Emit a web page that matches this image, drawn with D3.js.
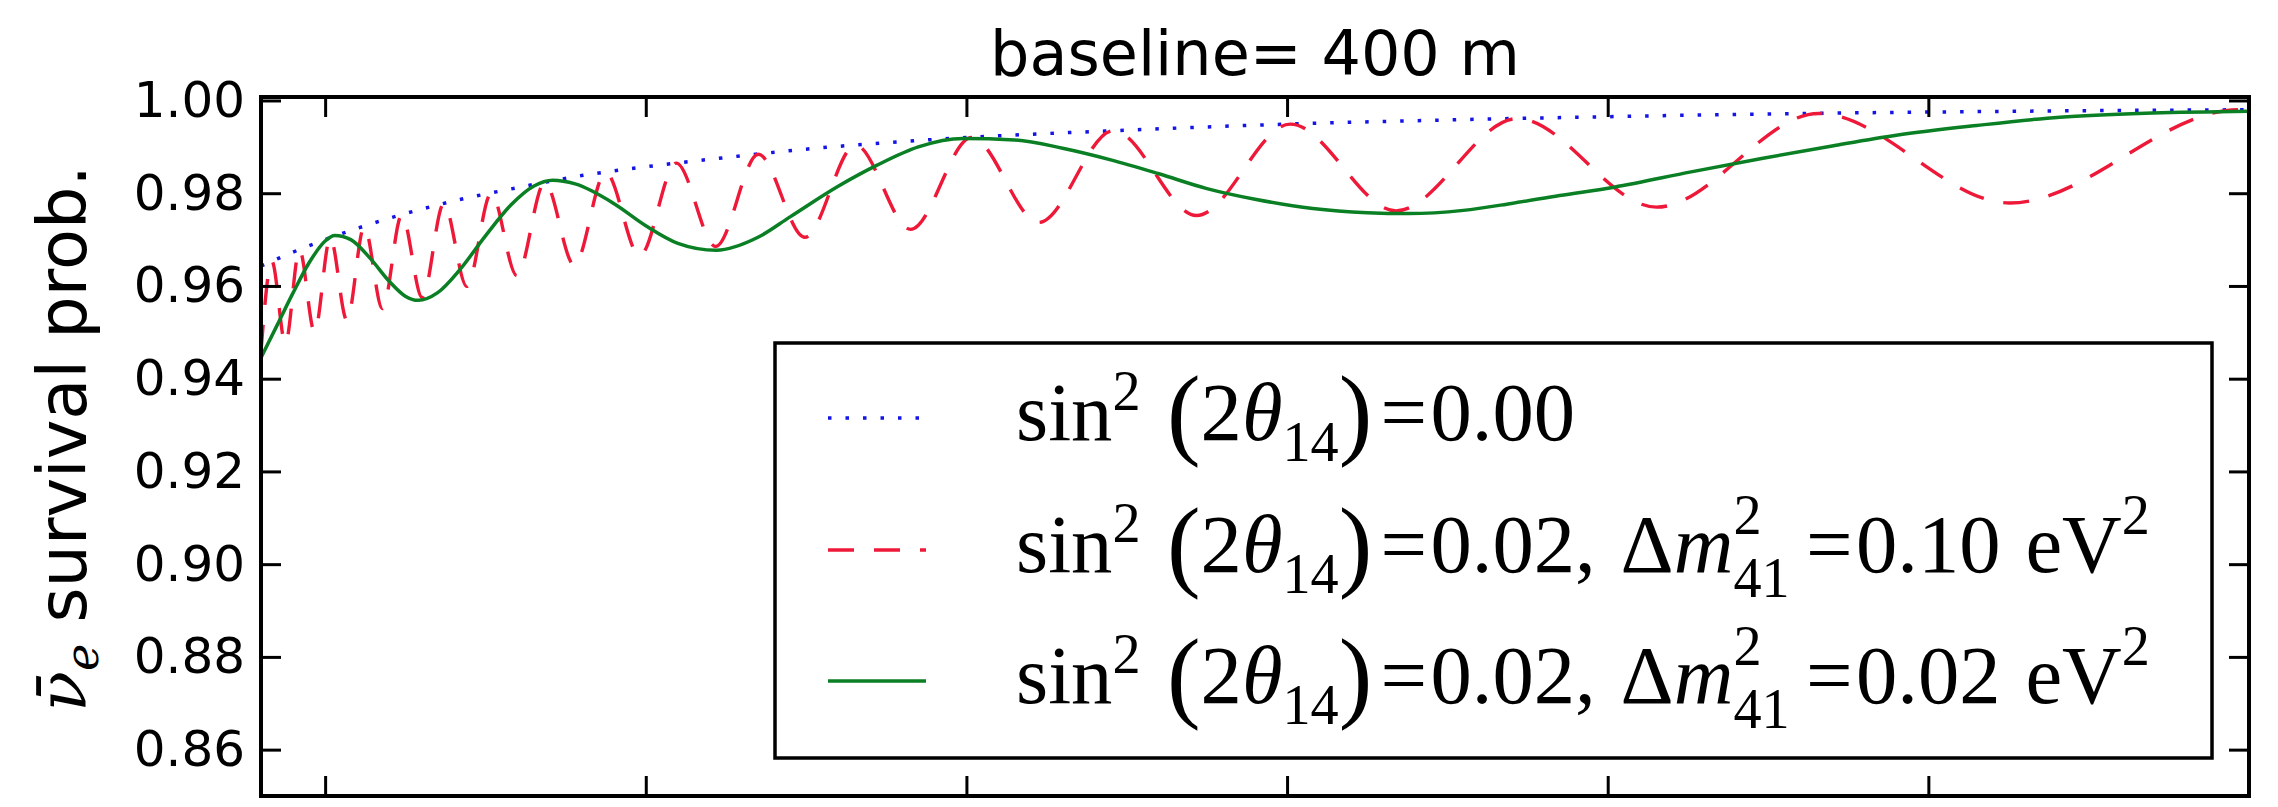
<!DOCTYPE html>
<html>
<head>
<meta charset="utf-8">
<script src="https://cdn.jsdelivr.net/npm/d3@7"></script>
<style>
  body { margin: 0; background: #fff; }
</style>
</head>
<body>
<div id="chart"></div>
<script>
var svgWidth = 2278;
var svgHeight = 807;

var margin = {top: 97, right: 29, bottom: 11, left: 261};
var width = svgWidth - margin.left - margin.right;
var height = svgHeight - margin.top - margin.bottom;

// tick positions (x ticks carry no labels in the original)
var xTicks = [2, 3, 4, 5, 6, 7, 8];
var yTicks = [0.86, 0.88, 0.90, 0.92, 0.94, 0.96, 0.98, 1.00];

// no sterile mixing
var blueE = [1.80, 1.90, 2.00, 2.20, 2.40, 2.60, 2.80, 3.00, 3.25, 3.50, 3.75, 4.00, 4.50, 5.00, 5.50, 6.00, 6.50, 7.00, 7.50, 8.00];
var blueP = [0.9643, 0.9673, 0.9700, 0.9746, 0.9783, 0.9812, 0.9838, 0.9857, 0.9877, 0.9895, 0.9909, 0.9920, 0.9936, 0.9949, 0.9958, 0.9965, 0.9971, 0.9975, 0.9978, 0.9980];

// sin^2 = 0.02, dm41 = 0.10 eV^2 (read at the turning points)
var redE = [1.800, 1.834, 1.876, 1.920, 1.967, 2.016, 2.068, 2.122, 2.179, 2.239, 2.303, 2.370, 2.442, 2.518, 2.598, 2.685, 2.777, 2.875, 2.981, 3.095, 3.218, 3.351, 3.496, 3.654, 3.826, 4.016, 4.226, 4.458, 4.718, 5.010, 5.340, 5.718, 6.152, 6.658, 7.254, 7.968, 8.000];
var redP = [0.9460, 0.9653, 0.9476, 0.9678, 0.9501, 0.9704, 0.9526, 0.9728, 0.9551, 0.9753, 0.9575, 0.9778, 0.9599, 0.9800, 0.9622, 0.9823, 0.9645, 0.9845, 0.9665, 0.9865, 0.9685, 0.9884, 0.9705, 0.9904, 0.9722, 0.9920, 0.9737, 0.9935, 0.9752, 0.9949, 0.9762, 0.9961, 0.9770, 0.9972, 0.9779, 0.9980, 0.9980];

// sin^2 = 0.02, dm41 = 0.02 eV^2
var greenE = [1.80, 1.85, 1.90, 1.95, 2.00, 2.03, 2.08, 2.14, 2.20, 2.25, 2.29, 2.35, 2.42, 2.50, 2.58, 2.65, 2.71, 2.78, 2.90, 3.00, 3.10, 3.22, 3.35, 3.45, 3.60, 3.72, 3.85, 3.99, 4.15, 4.30, 4.45, 4.60, 4.75, 4.90, 5.08, 5.25, 5.38, 5.55, 5.70, 5.85, 6.02, 6.26, 6.48, 6.70, 6.90, 7.15, 7.41, 7.70, 8.00];
var greenP = [0.9445, 0.9515, 0.9585, 0.9650, 0.9697, 0.9709, 0.9700, 0.9660, 0.9610, 0.9578, 0.9569, 0.9585, 0.9635, 0.9708, 0.9775, 0.9815, 0.9828, 0.9820, 0.9778, 0.9730, 0.9692, 0.9677, 0.9705, 0.9749, 0.9815, 0.9860, 0.9900, 0.9918, 0.9915, 0.9897, 0.9872, 0.9842, 0.9810, 0.9787, 0.9767, 0.9758, 0.9756, 0.9763, 0.9778, 0.9795, 0.9813, 0.9846, 0.9875, 0.9902, 0.9925, 0.9946, 0.9964, 0.9973, 0.9977];

var mixValues = ["0.00", "0.02", "0.02"];
var dmValues = [null, "0.10", "0.02"];

var svg = d3.select("#chart")
    .append("svg")
    .attr("width", svgWidth)
    .attr("height", svgHeight)
    .style("background", "#fff");

var chartGroup = svg.append("g")
    .attr("transform", `translate(${margin.left}, ${margin.top})`);

var xScale = d3.scaleLinear().domain([1.8, 8]).range([0, width]);
var yScale = d3.scaleLinear().domain([0.85, 1.00075]).range([height, 0]);

svg.append("defs").append("clipPath").attr("id", "plotclip")
    .append("rect").attr("width", width).attr("height", height);

// curves
var line = d3.line()
    .x(d => xScale(d[0]))
    .y(d => yScale(d[1]))
    .curve(d3.curveMonotoneX);

var series = [
    {e: blueE, p: blueP, color: "#1414e6", dash: "3.5,14", w: 3.5},
    {e: redE, p: redP, color: "#ee1838", dash: "26,20", w: 3.4},
    {e: greenE, p: greenP, color: "#0a7f24", dash: null, w: 3.5}
];

var curves = chartGroup.append("g").attr("clip-path", "url(#plotclip)");
series.forEach(function(s) {
    curves.append("path")
        .datum(d3.zip(s.e, s.p))
        .attr("d", line)
        .attr("fill", "none")
        .attr("stroke", s.color)
        .attr("stroke-width", s.w)
        .attr("stroke-dasharray", s.dash);
});

// axes, ticks pointing inwards like the old matplotlib style
var tickLen = 20;
var leftAxis = d3.axisLeft(yScale).tickValues(yTicks).tickFormat(d3.format(".2f"))
    .tickSizeInner(-tickLen).tickSizeOuter(0).tickPadding(16);
var rightAxis = d3.axisRight(yScale).tickValues(yTicks).tickFormat("")
    .tickSizeInner(-tickLen).tickSizeOuter(0);
var bottomAxis = d3.axisBottom(xScale).tickValues(xTicks).tickFormat("")
    .tickSizeInner(-tickLen).tickSizeOuter(0);
var topAxis = d3.axisTop(xScale).tickValues(xTicks).tickFormat("")
    .tickSizeInner(-tickLen).tickSizeOuter(0);

var axes = [
    chartGroup.append("g").call(leftAxis),
    chartGroup.append("g").attr("transform", `translate(${width}, 0)`).call(rightAxis),
    chartGroup.append("g").attr("transform", `translate(0, ${height})`).call(bottomAxis),
    chartGroup.append("g").call(topAxis)
];
axes.forEach(function(a) {
    a.select(".domain").remove();
    a.selectAll("line").attr("stroke", "#000").attr("stroke-width", 3);
    a.selectAll("text")
        .attr("fill", "#000")
        .style("font-family", "'DejaVu Sans', sans-serif")
        .style("font-size", "50px");
});

chartGroup.append("rect")
    .attr("width", width)
    .attr("height", height)
    .attr("fill", "none")
    .attr("stroke", "#000")
    .attr("stroke-width", 4);

// title
svg.append("text")
    .attr("x", margin.left + width / 2)
    .attr("y", 75)
    .attr("text-anchor", "middle")
    .style("font-family", "'DejaVu Sans', sans-serif")
    .style("font-size", "62px")
    .text("baseline= 400 m");

// y label
var ylab = svg.append("text")
    .attr("transform", `translate(86, ${margin.top + height / 2 - 8}) rotate(-90)`)
    .attr("text-anchor", "middle")
    .style("font-family", "'DejaVu Sans', sans-serif")
    .style("font-size", "67px");
ylab.append("tspan").style("font-family", "'DejaVu Serif', serif").style("font-style", "italic").text("\u03bd\u0304");
ylab.append("tspan").style("font-family", "'DejaVu Serif', serif").style("font-style", "italic").style("font-size", "46px").attr("dy", 12).text("e");
ylab.append("tspan").attr("dy", -12).text(" survival prob.");

// legend
var legend = {x: 775, y: 343, w: 1437, h: 415};
var rowBase = [440, 572, 703];
var handle = {x0: 828, x1: 926};

var legendGroup = svg.append("g");
legendGroup.append("rect")
    .attr("x", legend.x).attr("y", legend.y)
    .attr("width", legend.w).attr("height", legend.h)
    .attr("fill", "#fff")
    .attr("stroke", "#000")
    .attr("stroke-width", 3.5);

function rowParts(i) {
    var parts = [
        {t: "sin"}, {t: "2", s: 0.68, dy: -0.36}, {gap: 0.32},
        {t: "(", s: 1.22, dy: 0.07}, {t: "2"}, {t: "\u03b8", it: true},
        {t: "14", s: 0.68, dy: 0.25}, {t: ")", s: 1.22, dy: 0.07}, {gap: 0.1},
        {t: "="}, {gap: 0.04}, {t: mixValues[i]}
    ];
    if (dmValues[i]) {
        parts = parts.concat([
            {t: ","}, {gap: 0.3}, {t: "\u0394"}, {t: "m", it: true},
            {t: "2", s: 0.68, dy: -0.46, hold: true}, {t: "41", s: 0.68, dy: 0.3},
            {gap: 0.2}, {t: "="}, {gap: 0.04}, {t: dmValues[i]}, {gap: 0.3},
            {t: "eV"}, {t: "2", s: 0.68, dy: -0.46}
        ]);
    }
    return parts;
}

function drawRow(g, x0, y0, parts, fs) {
    var x = x0, held = 0;
    parts.forEach(function(p) {
        if (p.gap) { x += p.gap * fs; return; }
        var t = g.append("text")
            .attr("x", x)
            .attr("y", y0 + (p.dy || 0) * fs)
            .style("font-family", "'Liberation Serif', serif")
            .style("font-size", (fs * (p.s || 1)) + "px")
            .style("font-style", p.it ? "italic" : "normal")
            .text(p.t);
        var w = t.node().getComputedTextLength();
        if (p.hold) { held = w; return; }
        x += Math.max(w, held);
        held = 0;
    });
    return x;
}

// fit the font size so the long rows span the same width as the original
var probe = legendGroup.append("g");
var natural = drawRow(probe, 0, 0, rowParts(2), 70);
probe.remove();
var fontSize = 70 * (2150 - 1016) / natural;

series.forEach(function(s, i) {
    legendGroup.append("line")
        .attr("x1", handle.x0).attr("x2", handle.x1)
        .attr("y1", rowBase[i] - 22).attr("y2", rowBase[i] - 22)
        .attr("stroke", s.color)
        .attr("stroke-width", s.w)
        .attr("stroke-dasharray", s.dash);
    drawRow(legendGroup.append("g"), 1016, rowBase[i], rowParts(i), fontSize);
});
</script>
</body>
</html>
